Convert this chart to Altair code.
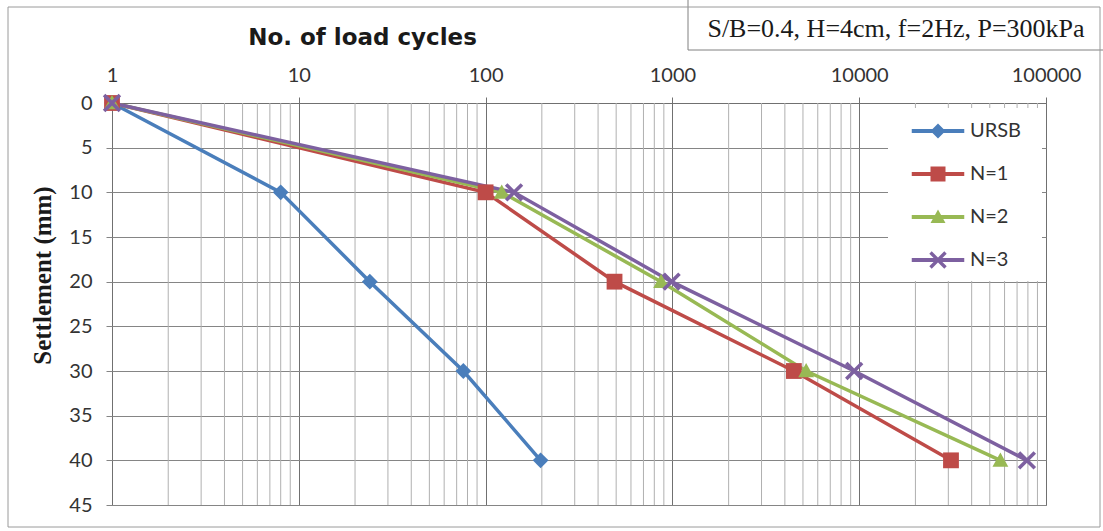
import altair as alt
import pandas as pd

# ---------------- data ----------------
series_names = ["URSB", "N=1", "N=2", "N=3"]
settlement_mm = [0, 10, 20, 30, 40]
ursb_cycles = [1, 8, 24, 76, 197]
n1_cycles = [1, 100, 490, 4470, 31000]
n2_cycles = [1, 122, 870, 5200, 57000]
n3_cycles = [1, 142, 990, 9400, 79000]

x_major_ticks = [1, 10, 100, 1000, 10000, 100000]
x_minor_ticks = [m * 10 ** k for k in range(5) for m in range(2, 10)]
y_ticks = [0, 5, 10, 15, 20, 25, 30, 35, 40, 45]

series_colors = ["#4A7EBB", "#BE4B48", "#98B954", "#7D60A0"]
info_text = "S/B=0.4, H=4cm, f=2Hz, P=300kPa"
x_title = "No. of load cycles"
y_title = "Settlement (mm)"

# ---------------- tables ----------------
rows = []
for name, cyc in zip(series_names, [ursb_cycles, n1_cycles, n2_cycles, n3_cycles]):
    for c, s in zip(cyc, settlement_mm):
        rows.append({"series": name, "cycles": c, "settlement": s})
df = pd.DataFrame(rows)
minor_df = pd.DataFrame({"cycles": x_minor_ticks})
one = pd.DataFrame({"k": [0]})

W, H = 934, 402

x_scale = alt.Scale(type="log", domain=[1, 100000], nice=False)
y_scale = alt.Scale(domain=[0, 45], reverse=True, nice=False, zero=False)
color_scale = alt.Scale(domain=series_names, range=series_colors)

diamond = "M0,-1L1,0L0,1L-1,0Z"
square = "M-1,-1H1V1H-1Z"
triangle = "M0,-1L1,0.8L-1,0.8Z"
xmark = "M-0.84,-1.16L1.16,0.84L0.84,1.16L-1.16,-0.84Z M-0.84,1.16L-1.16,0.84L0.84,-1.16L1.16,-0.84Z"
marker_paths = [diamond, square, triangle, xmark]
seg = "M-3.5,-0.27H3.5V0.27H-3.5Z "
legend_paths = [seg + p for p in marker_paths]

FONT_LAB = "Lato"

x_axis = alt.Axis(
    orient="top", values=x_major_ticks, format="d", grid=True,
    gridColor="#707070", gridWidth=1, tickSize=6, tickColor="#707070",
    domainColor="#707070", labelFont=FONT_LAB, labelFontSize=20,
    labelColor="#333333", labelPadding=12, labelFlush=False,
    labelOverlap=False,
    title=x_title, titleFont="DejaVu Sans", titleFontSize=23,
    titleFontWeight="bold", titleColor="#1a1a1a", titleX=250, titleY=-66,
    titleAlign="center", titleBaseline="middle",
)
y_axis = alt.Axis(
    orient="left", values=y_ticks, grid=True, gridColor="#858585",
    gridWidth=1, tickSize=6, tickColor="#858585", domain=False,
    labelFont=FONT_LAB, labelFontSize=20, labelColor="#333333",
    labelPadding=14, labelFlush=False,
    title=y_title, titleFont="Liberation Serif", titleFontSize=25,
    titleFontWeight="bold", titleColor="#1a1a1a", titleX=-70, titleY=172,
    titleAlign="center", titleBaseline="middle", titleAngle=270,
)

X = alt.X("cycles:Q", scale=x_scale, axis=x_axis)
Y = alt.Y("settlement:Q", scale=y_scale, axis=y_axis)

minor = alt.Chart(minor_df).mark_rule(color="#b0b0b0", strokeWidth=1).encode(x=X)

legend_bg = alt.Chart(one).mark_rect(fill="white").encode(
    x=alt.value(776), x2=alt.value(930), y=alt.value(5), y2=alt.value(178)
)

lines = alt.Chart(df).mark_line(strokeWidth=3.5).encode(
    x=X, y=Y,
    color=alt.Color("series:N", scale=color_scale, legend=None),
    detail="series:N",
)

points = alt.Chart(df).mark_point(filled=True, opacity=1, strokeWidth=0).encode(
    x=X, y=Y,
    color=alt.Color("series:N", scale=color_scale, legend=None),
    shape=alt.Shape("series:N", scale=alt.Scale(domain=series_names, range=marker_paths), legend=None),
    size=alt.Size("series:N", scale=alt.Scale(domain=series_names, range=[250, 250, 240, 210]), legend=None),
)

leg = alt.Legend(
    orient="none", legendX=816, legendY=18, title=None, symbolSize=225,
    symbolStrokeWidth=0, symbolOpacity=1, labelFont=FONT_LAB, labelFontSize=20,
    labelColor="#333333", labelOffset=22, rowPadding=23, padding=0, zindex=2,
)

legend_layer = alt.Chart(df).mark_point(filled=True, opacity=0).encode(
    x=X, y=Y,
    color=alt.Color("series:N", scale=color_scale, legend=leg),
    shape=alt.Shape("series:N", scale=alt.Scale(domain=series_names, range=legend_paths), legend=leg),
)

info_box = alt.Chart(one).mark_rect(fill="white", stroke="#808080", strokeWidth=1).encode(
    x=alt.value(576), x2=alt.value(1000), y=alt.value(-110), y2=alt.value(-53)
)
info = alt.Chart(one).mark_text(
    text=info_text, font="Liberation Serif", fontSize=26, color="#1a1a1a",
    align="center", baseline="middle"
).encode(x=alt.value(784), y=alt.value(-74))

outer = alt.Chart(one).mark_rect(fillOpacity=0, stroke="#9a9a9a", strokeWidth=1).encode(
    x=alt.value(-104), x2=alt.value(988), y=alt.value(-96), y2=alt.value(424)
)

chart = alt.layer(
    minor, legend_bg, lines, points, legend_layer, info_box, info, outer
).resolve_scale(
    color="independent", shape="independent"
).properties(
    width=W, height=H,
    padding={"left": 112, "top": 103, "right": 57, "bottom": 26},
    autosize=alt.AutoSizeParams(type="none"),
    background="white",
).configure_view(stroke="#8a8a8a", strokeWidth=1)

chart.save("out.html", embed_options={"renderer": "svg", "actions": False})
